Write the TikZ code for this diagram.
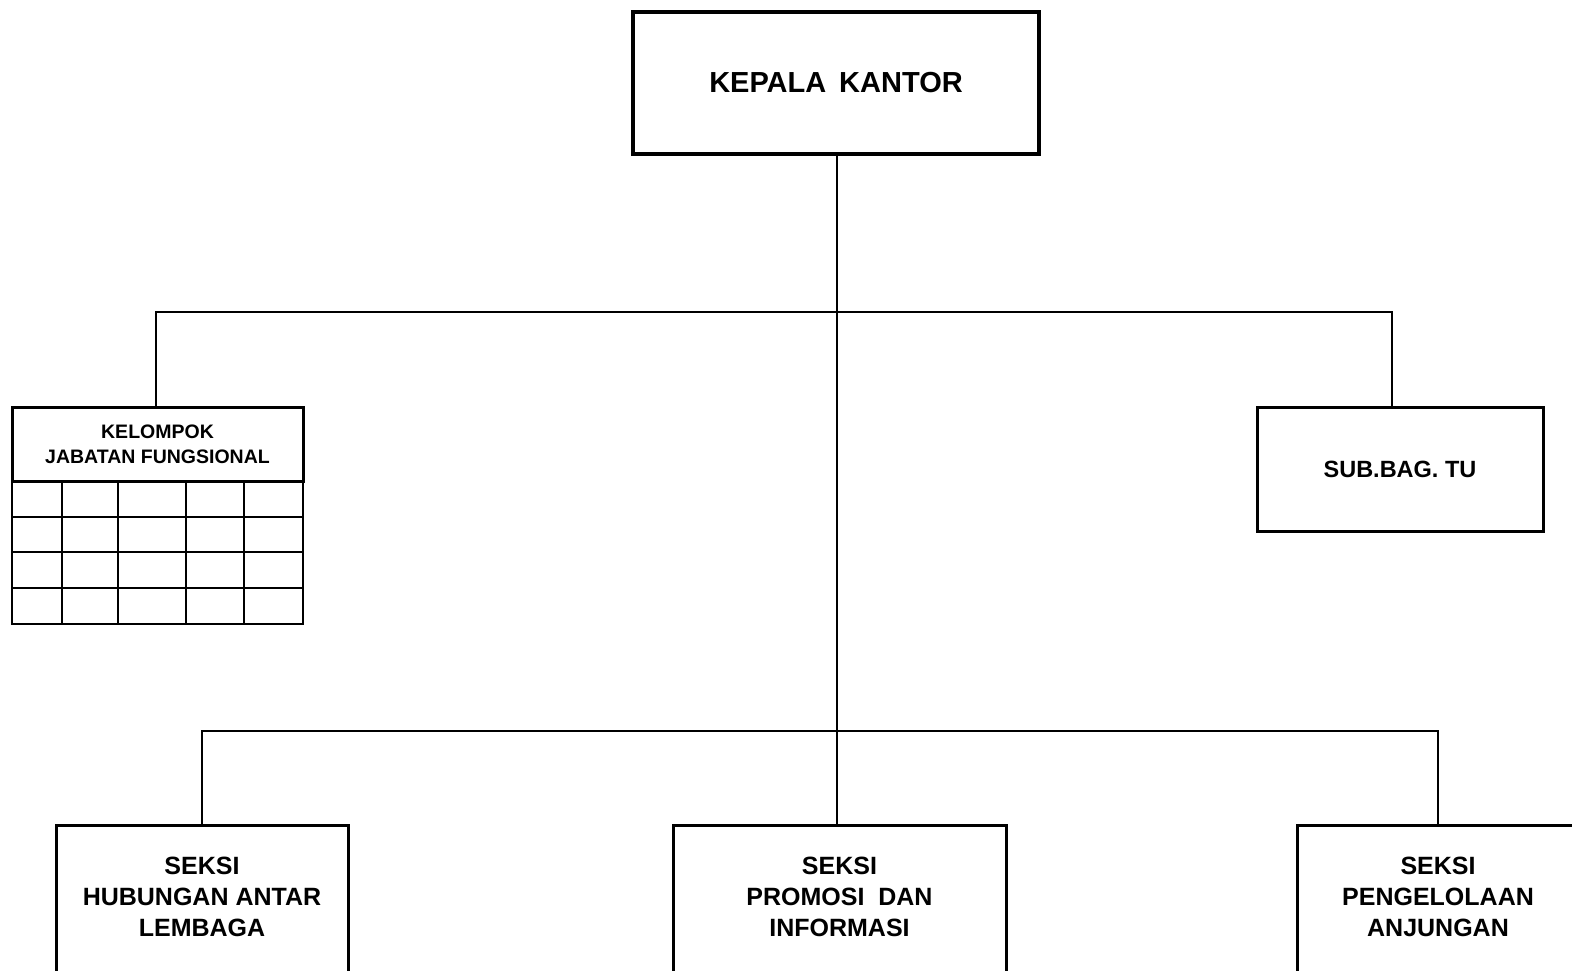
\documentclass[tikz,border=0pt]{standalone}
\usepackage{fontspec}
\setmainfont{Liberation Sans}
\begin{document}
\begin{tikzpicture}[x=1pt,y=-1pt,
  box/.style={draw,line width=3pt,rectangle,inner sep=0pt,outer sep=0pt},
  conn/.style={line width=2.5pt},
  lbl/.style={align=center,font=\bfseries\fontsize{25}{31}\selectfont,inner sep=0pt},
  gridline/.style={line width=2.8pt}]
\useasboundingbox (0,0) rectangle (1572,971);
\clip (0,0) rectangle (1572,971);
% top box
\node[box,line width=3.6pt,minimum width=406pt,minimum height=142pt,
  font=\bfseries\fontsize{29}{33}\selectfont] (kepala) at (836,83) {KEPALA\, KANTOR};
% kelompok jabatan fungsional header
\node[box,minimum width=291pt,minimum height=74pt,align=center,
  font=\bfseries\fontsize{19.5}{25}\selectfont] (kjf) at (157.5,444) {KELOMPOK\\JABATAN FUNGSIONAL};
% grid under it
\draw[gridline] (12,481) rectangle (303,624);
\foreach \yy in {517,552,588} \draw[gridline] (12,\yy) -- (303,\yy);
\foreach \xx in {62,118,186,244} \draw[gridline] (\xx,481) -- (\xx,624);
% sub bag tu
\node[box,minimum width=286pt,minimum height=124pt,
  font=\bfseries\fontsize{23.5}{28}\selectfont] (sub) at (1400,469) {SUB.BAG. TU};
% bottom boxes
\node[box,minimum width=292pt,minimum height=180pt] (hub) at (202,915) {};
\node[lbl] (hubt) at (202,897) {SEKSI\\HUBUNGAN ANTAR\\LEMBAGA};
\node[box,minimum width=333pt,minimum height=180pt] (prom) at (839.5,915) {};
\node[lbl] (promt) at (839.5,897) {SEKSI\\PROMOSI\ \ DAN\\INFORMASI};
\node[box,minimum width=282pt,minimum height=180pt] (peng) at (1438,915) {};
\node[lbl] (pengt) at (1438,897) {SEKSI\\PENGELOLAAN\\ANJUNGAN};
% junctions
\coordinate (j1) at (837,312);
\coordinate (j2) at (837,731);
% connectors
\draw[conn] (kepala.south -| j1) -- (j2) -- (j2 |- prom.north);
\draw[conn] (kjf.north -| 156,0) |- (j1) -| (sub.north -| 1392,0);
\draw[conn] (hub.north) |- (j2) -| (peng.north);
\end{tikzpicture}
\end{document}
